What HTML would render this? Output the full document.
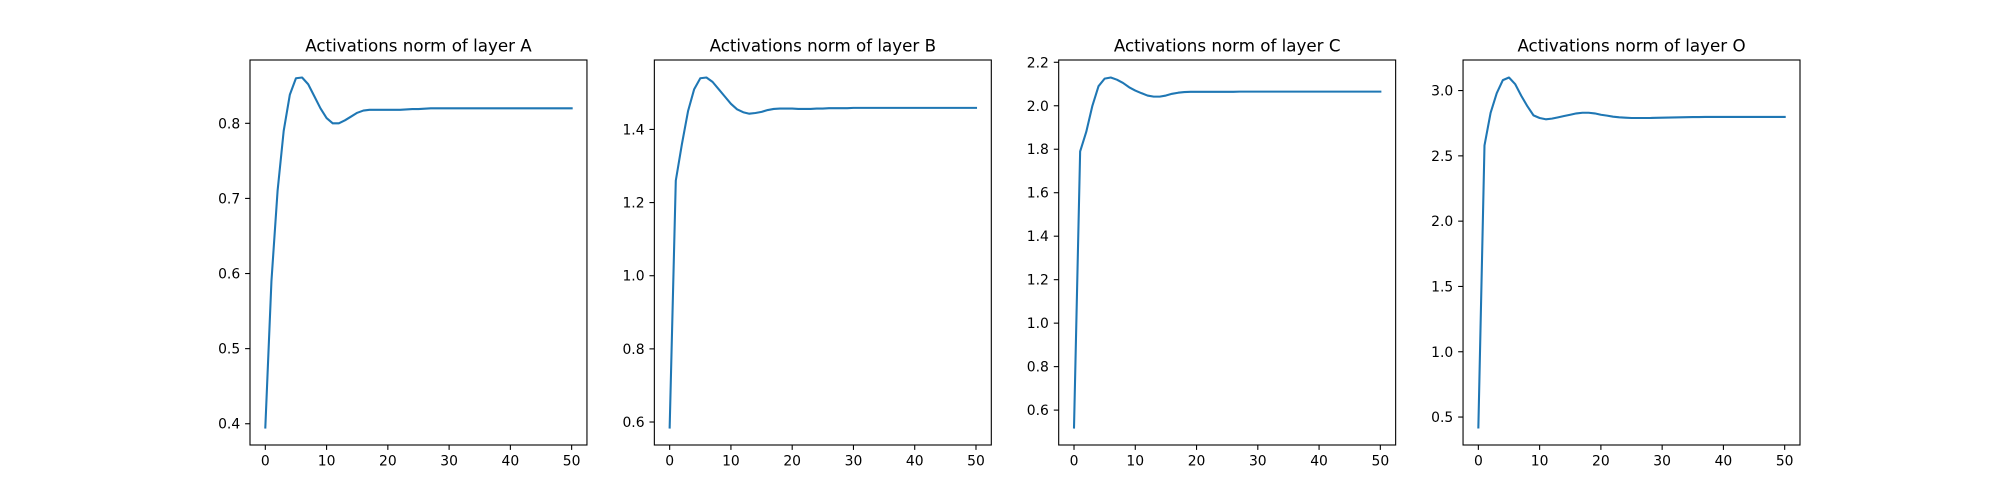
<!DOCTYPE html>
<html><head><meta charset="utf-8"><style>
html,body{margin:0;padding:0;background:#fff;}
svg{display:block;font-family:"DejaVu Sans","Liberation Sans",sans-serif;}
</style></head><body>
<svg id="fig" width="2000" height="500" xmlns="http://www.w3.org/2000/svg"></svg>
<script>
const titles = ["Activations norm of layer A","Activations norm of layer B","Activations norm of layer C","Activations norm of layer O"];
const xTicks = [0,10,20,30,40,50];
const yTicksA = [0.4,0.5,0.6,0.7,0.8];
const yTicksB = [0.6,0.8,1.0,1.2,1.4];
const yTicksC = [0.6,0.8,1.0,1.2,1.4,1.6,1.8,2.0,2.2];
const yTicksD = [0.5,1.0,1.5,2.0,2.5,3.0];
const seriesA = [0.395,0.59,0.71,0.79,0.838,0.86,0.861,0.852,0.836,0.82,0.807,0.80,0.80,0.804,0.809,0.814,0.817,0.818,0.818,0.818,0.818,0.818,0.818,0.8185,0.819,0.819,0.8195,0.82,0.82,0.82,0.82,0.82,0.82,0.82,0.82,0.82,0.82,0.82,0.82,0.82,0.82,0.82,0.82,0.82,0.82,0.82,0.82,0.82,0.82,0.82,0.82];
const seriesB = [0.585,1.26,1.36,1.45,1.51,1.54,1.542,1.53,1.51,1.49,1.47,1.455,1.447,1.443,1.445,1.448,1.453,1.456,1.457,1.457,1.457,1.456,1.456,1.456,1.457,1.457,1.458,1.458,1.458,1.458,1.459,1.459,1.459,1.459,1.459,1.459,1.459,1.459,1.459,1.459,1.459,1.459,1.459,1.459,1.459,1.459,1.459,1.459,1.459,1.459,1.459];
const seriesC = [0.52,1.79,1.88,2.0,2.09,2.125,2.13,2.12,2.105,2.085,2.07,2.058,2.047,2.042,2.042,2.047,2.055,2.06,2.063,2.064,2.064,2.064,2.064,2.064,2.064,2.064,2.064,2.065,2.065,2.065,2.065,2.065,2.065,2.065,2.065,2.065,2.065,2.065,2.065,2.065,2.065,2.065,2.065,2.065,2.065,2.065,2.065,2.065,2.065,2.065,2.065];
const seriesD = [0.42,2.58,2.83,2.98,3.08,3.10,3.05,2.96,2.88,2.81,2.79,2.78,2.785,2.795,2.805,2.815,2.825,2.83,2.83,2.825,2.815,2.808,2.80,2.795,2.792,2.79,2.79,2.79,2.79,2.791,2.792,2.793,2.794,2.795,2.796,2.797,2.797,2.798,2.798,2.798,2.798,2.798,2.798,2.798,2.798,2.798,2.798,2.798,2.798,2.798,2.798];

const NS="http://www.w3.org/2000/svg";
const svg=document.getElementById('fig');
function mk(tag,attrs,parent){const e=document.createElementNS(NS,tag);for(const k in attrs)e.setAttribute(k,attrs[k]);(parent||svg).appendChild(e);return e;}
const allSeries=[seriesA,seriesB,seriesC,seriesD];
const allTicks=[yTicksA,yTicksB,yTicksC,yTicksD];
const names=['a','b','c','d'];
const axW=1550/4.6, axGap=axW*0.2, axTop=60, axBot=445;
allSeries.forEach((data,i)=>{
  const L=250+i*(axW+axGap), R=L+axW;
  const g=mk('g',{});
  
  
  const n=data.length-1;
  const xmin=-0.05*n, xmax=n*1.05;
  const dmin=Math.min(...data), dmax=Math.max(...data), pad=(dmax-dmin)*0.05;
  const ymin=dmin-pad, ymax=dmax+pad;
  const X=v=>L+(v-xmin)/(xmax-xmin)*(R-L);
  const Y=v=>axBot-(v-ymin)/(ymax-ymin)*(axBot-axTop);
  const pts=data.map((v,k)=>X(k).toFixed(2)+','+Y(v).toFixed(2)).join(' ');
  const line=mk('polyline',{points:pts,fill:'none',stroke:'#1f77b4','stroke-width':2.08,'stroke-linejoin':'round','stroke-linecap':'square'},g);
  
  
  const frame=mk('rect',{x:L,y:axTop,width:R-L,height:axBot-axTop,fill:'none',stroke:'#000','stroke-width':1.1},g);
  
  
  xTicks.forEach(t=>{
    const x=X(t);
    mk('line',{x1:x,x2:x,y1:axBot,y2:axBot+4.9,stroke:'#000','stroke-width':1.1},g);
    const tx=mk('text',{x:x,y:axBot+20.5,'font-size':13.9,'text-anchor':'middle',fill:'#000'},g);
    tx.textContent=t;
    
    
  });
  allTicks[i].forEach(t=>{
    const y=Y(t);
    mk('line',{x1:L-4.9,x2:L,y1:y,y2:y,stroke:'#000','stroke-width':1.1},g);
    const ty=mk('text',{x:L-9.8,y:y+5,'font-size':13.9,'text-anchor':'end',fill:'#000'},g);
    ty.textContent=t.toFixed(1);
    
    
  });
  const tt=mk('text',{x:(L+R)/2,y:axTop-8.5,'font-size':16.7,'text-anchor':'middle',fill:'#000'},g);
  tt.textContent=titles[i];
  
  
});
</script>
</body></html>
